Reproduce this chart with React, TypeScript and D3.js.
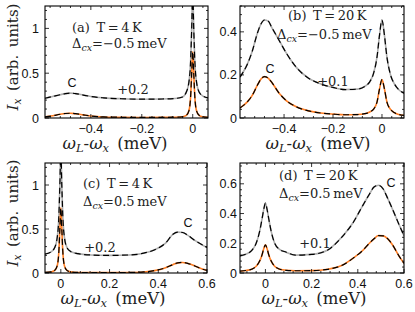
import * as d3 from "d3";

// (a) T=4K, Δcx=-0.5 meV
const aX = [-0.58, -0.55, -0.52, -0.5, -0.48, -0.46, -0.43, -0.4, -0.35, -0.28, -0.2, -0.12, -0.07, -0.04, -0.025, -0.015, -0.008, -0.004, 0, 0.004, 0.008, 0.015, 0.025, 0.04, 0.06];
const aLow = [0.012, 0.025, 0.042, 0.05, 0.053, 0.048, 0.035, 0.022, 0.012, 0.008, 0.006, 0.007, 0.009, 0.014, 0.03, 0.08, 0.25, 0.5, 0.74, 0.5, 0.25, 0.08, 0.03, 0.014, 0.008];
const aHigh = [0.22, 0.24, 0.26, 0.272, 0.278, 0.272, 0.256, 0.24, 0.225, 0.215, 0.21, 0.212, 0.218, 0.235, 0.29, 0.4, 0.65, 1.0, 1.4, 1.0, 0.65, 0.4, 0.29, 0.245, 0.225];

// (b) T=20K, Δcx=-0.5 meV
const bX = [-0.58, -0.55, -0.53, -0.51, -0.495, -0.48, -0.465, -0.45, -0.42, -0.39, -0.35, -0.3, -0.25, -0.2, -0.15, -0.1, -0.07, -0.05, -0.035, -0.02, -0.01, 0, 0.01, 0.02, 0.035, 0.05, 0.07, 0.09];
const bLow = [0.047, 0.075, 0.105, 0.15, 0.18, 0.192, 0.185, 0.165, 0.115, 0.08, 0.052, 0.033, 0.023, 0.018, 0.015, 0.016, 0.02, 0.028, 0.04, 0.075, 0.135, 0.178, 0.135, 0.075, 0.04, 0.025, 0.016, 0.012];
const bHigh = [0.19, 0.25, 0.31, 0.39, 0.435, 0.455, 0.45, 0.42, 0.36, 0.3, 0.235, 0.185, 0.158, 0.142, 0.132, 0.134, 0.147, 0.168, 0.205, 0.285, 0.385, 0.455, 0.385, 0.285, 0.2, 0.16, 0.13, 0.115];

// (c) T=4K, Δcx=0.5 meV
const cX = [-0.065, -0.04, -0.025, -0.015, -0.008, -0.004, 0, 0.004, 0.008, 0.015, 0.025, 0.04, 0.07, 0.12, 0.2, 0.28, 0.34, 0.39, 0.43, 0.46, 0.48, 0.5, 0.52, 0.55, 0.58, 0.6];
const cLow = [0.006, 0.012, 0.03, 0.08, 0.25, 0.5, 0.74, 0.5, 0.25, 0.08, 0.03, 0.013, 0.006, 0.004, 0.004, 0.006, 0.012, 0.03, 0.06, 0.095, 0.115, 0.12, 0.11, 0.08, 0.045, 0.03];
const cHigh = [0.215, 0.24, 0.29, 0.4, 0.65, 1.0, 1.4, 1.0, 0.65, 0.4, 0.29, 0.245, 0.22, 0.205, 0.2, 0.205, 0.225, 0.27, 0.34, 0.44, 0.465, 0.46, 0.43, 0.37, 0.32, 0.29];

// (d) T=20K, Δcx=0.5 meV
const dX = [-0.11, -0.08, -0.06, -0.04, -0.025, -0.015, -0.007, 0, 0.007, 0.015, 0.025, 0.04, 0.06, 0.09, 0.13, 0.2, 0.27, 0.33, 0.38, 0.42, 0.45, 0.47, 0.49, 0.51, 0.53, 0.55, 0.58, 0.6];
const dLow = [0.012, 0.018, 0.025, 0.045, 0.08, 0.12, 0.165, 0.19, 0.165, 0.12, 0.08, 0.045, 0.027, 0.018, 0.015, 0.016, 0.025, 0.05, 0.1, 0.15, 0.2, 0.23, 0.252, 0.25, 0.23, 0.19, 0.11, 0.065];
const dHigh = [0.115, 0.13, 0.15, 0.2, 0.28, 0.36, 0.43, 0.47, 0.43, 0.36, 0.28, 0.2, 0.16, 0.14, 0.12, 0.125, 0.155, 0.24, 0.34, 0.45, 0.53, 0.578, 0.59, 0.565, 0.5, 0.43, 0.32, 0.25];

const titles = ["(a)\u2002T\u2009=\u20094\u2009K", "(b)\u2002T\u2009=\u200920\u2009K", "(c)\u2002T\u2009=\u20094\u2009K", "(d)\u2002T\u2009=\u200920\u2009K"];
const detunings = ["=\u22120.5\u2009meV", "=\u22120.5\u2009meV", "=0.5\u2009meV", "=0.5\u2009meV"];
const offsets = ["+0.2", "+0.1", "+0.2", "+0.1"];

const W = 415;
const H = 312;
const ORANGE = "#ff7d22";
const GRAY = "#adadad";
const SERIF = "DejaVu Serif, serif";
const SANS = "Liberation Sans, Arial, sans-serif";

const panels = [
  { xs: aX, low: aLow, high: aHigh, left: 45, right: 208, top: 6, bottom: 118, xd: [-0.58, 0.06], yd: [0, 1.25],
    xt: [-0.4, -0.2, 0], yt: [0, 0.5, 1], xm: 0.04, ym: 0.1, labX: 39, xTitle: 115,
    title: [72, 32], det: [72, 48], c: [72, 87], off: [133, 94] },
  { xs: bX, low: bLow, high: bHigh, left: 240, right: 404, top: 6, bottom: 118, xd: [-0.58, 0.09], yd: [0, 0.52],
    xt: [-0.4, -0.2, 0], yt: [0, 0.2, 0.4], xm: 0.04, ym: 0.04, labX: 237, xTitle: 318,
    title: [288, 20], det: [277, 39], c: [270, 73], off: [333, 86] },
  { xs: cX, low: cLow, high: cHigh, left: 45, right: 207, top: 163, bottom: 273, xd: [-0.065, 0.6], yd: [0, 1.25],
    xt: [0, 0.2, 0.4, 0.6], yt: [0, 0.5, 1], xm: 0.04, ym: 0.1, labX: 39, xTitle: 113,
    title: [83, 188], det: [83, 206], c: [188, 227], off: [100, 252] },
  { xs: dX, low: dLow, high: dHigh, left: 240, right: 404, top: 163, bottom: 273, xd: [-0.11, 0.6], yd: [0, 0.74],
    xt: [0, 0.2, 0.4, 0.6], yt: [0, 0.2, 0.4, 0.6], xm: 0.04, ym: 0.04, labX: 237, xTitle: 314,
    title: [279, 180], det: [279, 198], c: [391, 187], off: [315, 248] },
];

const fmt = (v: number) => (v < 0 ? "\u2212" : "") + String(Math.abs(v));

const minors = (d: number[], step: number, major: number[]) =>
  d3.range(Math.ceil(d[0] / step - 1e-6), Math.floor(d[1] / step + 1e-6) + 1)
    .map(k => k * step)
    .filter(v => !major.some(m => Math.abs(m - v) < 1e-6));

function Panel({ p, i }: { p: any; i: number }) {
  const x = d3.scaleLinear().domain(p.xd).range([p.left, p.right]);
  const y = d3.scaleLinear().domain(p.yd).range([p.bottom, p.top]);
  const line = d3.line<number>()
    .x((_, k) => x(p.xs[k]))
    .y(d => y(d))
    .curve(d3.curveMonotoneX);
  const clipId = `clip-${i}`;
  const xMin = minors(p.xd, p.xm, p.xt);
  const yMin = minors(p.yd, p.ym, p.yt);
  const MAJ = 4;
  const MIN = 2;

  return (
    <g>
      <defs>
        <clipPath id={clipId}>
          <rect x={p.left} y={p.top} width={p.right - p.left} height={p.bottom - p.top} />
        </clipPath>
      </defs>
      <g clipPath={`url(#${clipId})`} fill="none">
        <path d={line(p.high) || ""} stroke={GRAY} strokeWidth={1.6} />
        <path d={line(p.high) || ""} stroke="#000" strokeWidth={1.2} strokeDasharray="6,3.5" />
        <path d={line(p.low) || ""} stroke={ORANGE} strokeWidth={1.6} />
        <path d={line(p.low) || ""} stroke="#000" strokeWidth={1.2} strokeDasharray="6,3.5" />
      </g>

      {/* ticks, inward on all four sides */}
      <g stroke="#000" strokeWidth={0.8}>
        {p.xt.map((t: number) => (
          <g key={"xt" + t}>
            <line x1={x(t)} x2={x(t)} y1={p.bottom} y2={p.bottom - MAJ} />
            <line x1={x(t)} x2={x(t)} y1={p.top} y2={p.top + MAJ} />
          </g>
        ))}
        {xMin.map((t: number) => (
          <g key={"xm" + t}>
            <line x1={x(t)} x2={x(t)} y1={p.bottom} y2={p.bottom - MIN} />
            <line x1={x(t)} x2={x(t)} y1={p.top} y2={p.top + MIN} />
          </g>
        ))}
        {p.yt.map((t: number) => (
          <g key={"yt" + t}>
            <line x1={p.left} x2={p.left + MAJ} y1={y(t)} y2={y(t)} />
            <line x1={p.right} x2={p.right - MAJ} y1={y(t)} y2={y(t)} />
          </g>
        ))}
        {yMin.map((t: number) => (
          <g key={"ym" + t}>
            <line x1={p.left} x2={p.left + MIN} y1={y(t)} y2={y(t)} />
            <line x1={p.right} x2={p.right - MIN} y1={y(t)} y2={y(t)} />
          </g>
        ))}
      </g>
      <rect x={p.left} y={p.top} width={p.right - p.left} height={p.bottom - p.top}
        fill="none" stroke="#000" strokeWidth={1.1} />

      <g fontFamily={SANS} fontSize={12.5} fill="#111">
        {p.xt.map((t: number) => (
          <text key={"xl" + t} x={x(t)} y={p.bottom + 14.5} textAnchor="middle">{fmt(t)}</text>
        ))}
        {p.yt.map((t: number) => (
          <text key={"yl" + t} x={p.labX} y={y(t) + 4.5} textAnchor="end">{fmt(t)}</text>
        ))}
        <text x={p.c[0]} y={p.c[1]} textAnchor="middle">C</text>
      </g>

      <g fontFamily={SERIF} fontSize={13} fill="#222">
        <text x={p.title[0]} y={p.title[1]}>{titles[i]}</text>
        <text x={p.det[0]} y={p.det[1]}>
          {"\u0394"}
          <tspan fontStyle="italic" fontSize={9.5} dy={3}>cx</tspan>
          <tspan dy={-3}>{detunings[i]}</tspan>
        </text>
        <text x={p.off[0]} y={p.off[1]} textAnchor="middle">{offsets[i]}</text>
      </g>

      {/* x axis title */}
      <text x={p.xTitle} y={p.bottom + 31} textAnchor="middle"
        fontFamily={SERIF} fontSize={16.5} fill="#222">
        <tspan fontStyle="italic">{"\u03c9"}</tspan>
        <tspan fontStyle="italic" fontSize={11.5} dy={3}>L</tspan>
        <tspan dy={-3}>-</tspan>
        <tspan fontStyle="italic">{"\u03c9"}</tspan>
        <tspan fontStyle="italic" fontSize={11.5} dy={3}>x</tspan>
        <tspan dy={-3}>{"\u2002(meV)"}</tspan>
      </text>
    </g>
  );
}

function YTitle({ cy }: { cy: number }) {
  return (
    <text transform={`translate(18,${cy}) rotate(-90)`} textAnchor="middle"
      fontFamily={SERIF} fontSize={15} fill="#222">
      <tspan fontStyle="italic">I</tspan>
      <tspan fontStyle="italic" fontSize={10.5} dy={3}>x</tspan>
      <tspan dy={-3}>{"\u2002(arb.\u2002units)"}</tspan>
    </text>
  );
}

export default function App() {
  return (
    <svg width={W} height={H} style={{ position: "absolute", left: 0, top: 0, background: "#fff" }}>
      {panels.map((p, i) => <Panel key={i} p={p} i={i} />)}
      <YTitle cy={57} />
      <YTitle cy={213} />
    </svg>
  );
}
